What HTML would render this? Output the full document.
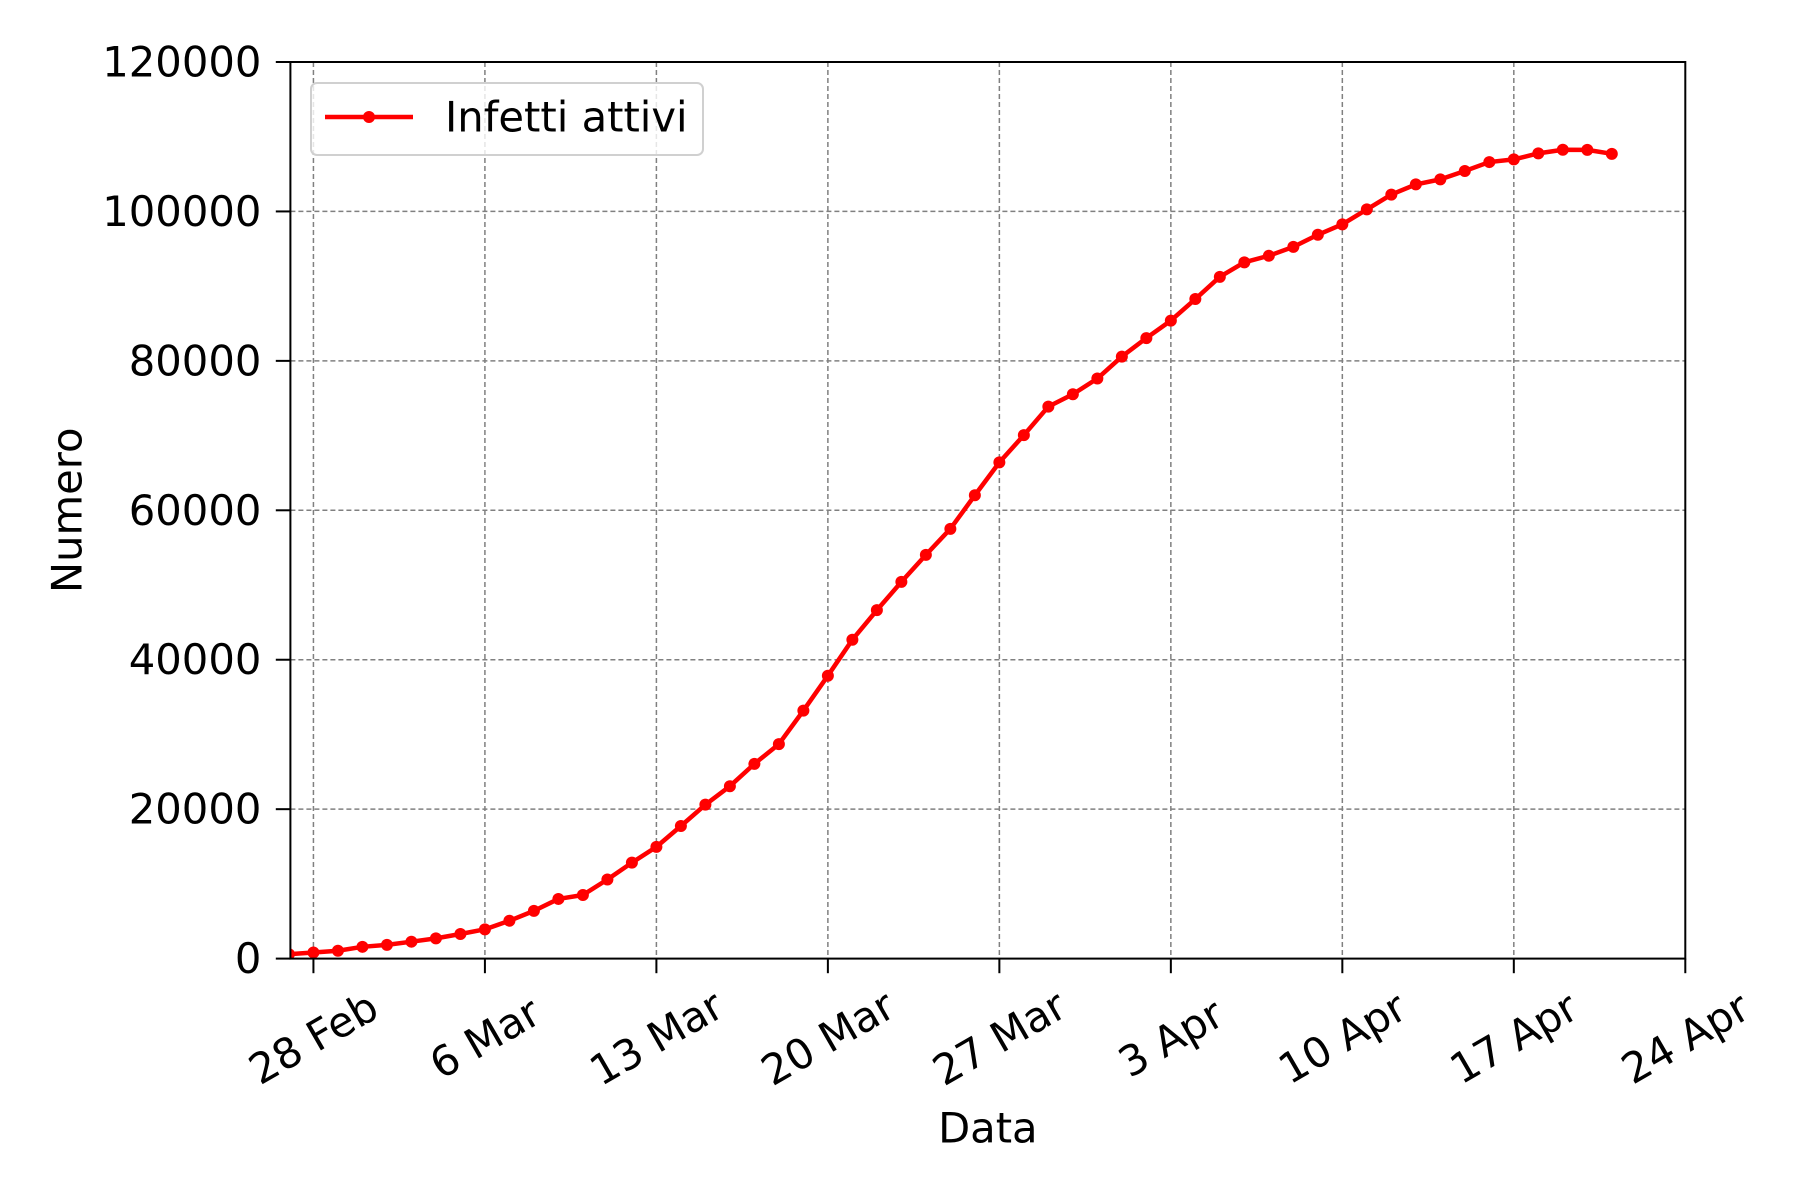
<!DOCTYPE html>
<html><head><meta charset="utf-8"><style>
body{margin:0;background:#fff}
svg{display:block;font-family:"DejaVu Sans","Liberation Sans",sans-serif}
</style></head><body>
<svg id="c" width="1800" height="1200" viewBox="0 0 1800 1200"></svg>
<script>
const startDay = -1; // 27 Feb relative to 28 Feb
const values = [593,821,1049,1577,1835,2263,2706,3296,3916,5061,6387,7985,8514,10590,12839,14955,17750,20603,23073,26062,28710,33190,37860,42681,46638,50418,54030,57521,62013,66414,70065,73880,75528,77635,80572,83049,85388,88274,91246,93187,94067,95262,96877,98273,100269,102253,103616,104291,105418,106607,106962,107771,108257,108237,107709];
const xTickDays = [0,7,14,21,28,35,42,49,56];
const xTickLabels = ["28 Feb","6 Mar","13 Mar","20 Mar","27 Mar","3 Apr","10 Apr","17 Apr","24 Apr"];
const yTicks = [0,20000,40000,60000,80000,100000,120000];

const L=290.4,R=1685.3,T=62,B=958.6;
const xMin=-0.94,xMax=56;
const X=d=>L+(d-xMin)/(xMax-xMin)*(R-L);
const Y=v=>B-(v/120000)*(B-T);
const NS="http://www.w3.org/2000/svg";
const svg=document.getElementById('c');
function mk(t,a,p){const e=document.createElementNS(NS,t);for(const k in a)e.setAttribute(k,a[k]);(p||svg).appendChild(e);return e;}

const grid=mk('g',{});


xTickDays.forEach((d,i)=>{
  const x=X(d);
  if(x>L+1&&x<R-1){const g=mk('line',{x1:x,x2:x,y1:T,y2:B,stroke:'#808080','stroke-width':1.5,'stroke-dasharray':'5,3'},grid);
  
  }
  const t=mk('line',{x1:x,x2:x,y1:B,y2:B+14.6,stroke:'#000','stroke-width':2});
  
  
  const lb=mk('text',{x:0,y:0,'font-size':41.7,'text-anchor':'middle','dominant-baseline':'central',transform:`translate(${x},${1038}) rotate(-30)`});
  lb.textContent=xTickLabels[i];
  
  
});
yTicks.forEach(v=>{
  const y=Y(v);
  if(y>T+1&&y<B-1){const g=mk('line',{x1:L,x2:R,y1:y,y2:y,stroke:'#808080','stroke-width':1.5,'stroke-dasharray':'5,3'},grid);
  
  }
  const t=mk('line',{x1:L-14.6,x2:L,y1:y,y2:y,stroke:'#000','stroke-width':2});
  
  
  const lb=mk('text',{x:L-29,y:y,'font-size':41.7,'text-anchor':'end','dominant-baseline':'central'});
  lb.textContent=String(v);
  
  
});

const clip=mk('clipPath',{id:'cp'});mk('rect',{x:L,y:T,width:R-L,height:B-T},clip);
const series=mk('g',{'clip-path':'url(#cp)'});


const pts=values.map((v,i)=>[X(startDay+i),Y(v)]);
const pl=mk('polyline',{points:pts.map(p=>p.join(',')).join(' '),fill:'none',stroke:'#ff0000','stroke-width':4.5,'stroke-linejoin':'round'},series);


pts.forEach(p=>{const c=mk('circle',{cx:p[0],cy:p[1],r:6,fill:'#ff0000'},series);
  
  });

const fr=mk('rect',{x:L,y:T,width:R-L,height:B-T,fill:'none',stroke:'#000','stroke-width':2});



const lg=mk('g',{});


mk('rect',{x:311,y:83,width:392,height:72,rx:6,fill:'#fff','fill-opacity':0.8,stroke:'#d0d0d0','stroke-width':2},lg);
mk('line',{x1:325,x2:413,y1:117,y2:117,stroke:'#ff0000','stroke-width':4.5},lg);
mk('circle',{cx:369,cy:117,r:6,fill:'#ff0000'},lg);
const lt=mk('text',{x:445,y:117,'font-size':41.7,'dominant-baseline':'central'},lg);
lt.textContent='Infetti attivi';



const xl=mk('text',{x:(L+R)/2,y:1128,'font-size':41.7,'text-anchor':'middle','dominant-baseline':'central'});
xl.textContent='Data';


const yl=mk('text',{x:0,y:0,'font-size':41.7,'text-anchor':'middle','dominant-baseline':'central',transform:`translate(67,${(T+B)/2}) rotate(-90)`});
yl.textContent='Numero';


</script>
</body></html>
